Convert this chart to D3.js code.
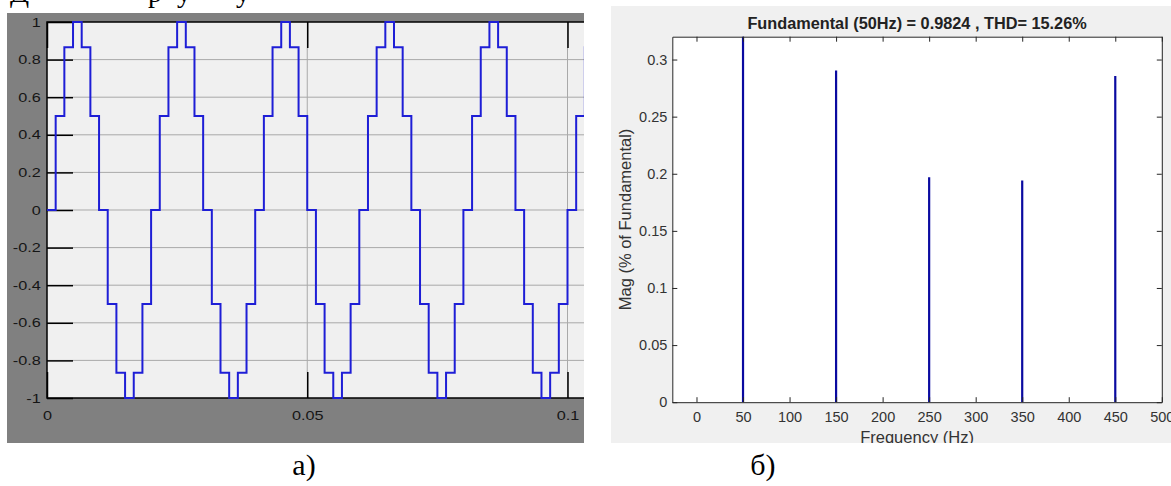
<!DOCTYPE html>
<html>
<head>
<meta charset="utf-8">
<script src="https://cdn.jsdelivr.net/npm/d3@7"></script>
<style>
body { margin: 0; background: #fff; }
</style>
</head>
<body>
<script>
var W = 1171, H = 486;

// a) staircase voltage: level held during each 1/600 s step
var stepTime = 1 / 600;
var stepLevels = [
  0, 0.5, 0.866, 1, 0.866, 0.5, 0, -0.5, -0.866, -1, -0.866, -0.5,
  0, 0.5, 0.866, 1, 0.866, 0.5, 0, -0.5, -0.866, -1, -0.866, -0.5,
  0, 0.5, 0.866, 1, 0.866, 0.5, 0, -0.5, -0.866, -1, -0.866, -0.5,
  0, 0.5, 0.866, 1, 0.866, 0.5, 0, -0.5, -0.866, -1, -0.866, -0.5,
  0, 0.5, 0.866, 1, 0.866, 0.5, 0, -0.5, -0.866, -1, -0.866, -0.5,
  0, 0.5, 0.866
];
var waveXTicks = [0, 0.05, 0.1];
var waveXLabels = ["0", "0.05", "0.1"];
var waveYTicks = [-1, -0.8, -0.6, -0.4, -0.2, 0, 0.2, 0.4, 0.6, 0.8, 1];
var waveYLabels = ["-1", "-0.8", "-0.6", "-0.4", "-0.2", "0", "0.2", "0.4", "0.6", "0.8", "1"];

// b) harmonic spectrum
var freqs = [50, 150, 250, 350, 450];
var mags = [1, 0.2904, 0.197, 0.194, 0.2857];
var freqTicks = [0, 50, 100, 150, 200, 250, 300, 350, 400, 450, 500];
var magTicks = [0, 0.05, 0.1, 0.15, 0.2, 0.25, 0.3];
var magLabels = ["0", "0.05", "0.1", "0.15", "0.2", "0.25", "0.3"];
var specTitle = "Fundamental (50Hz) = 0.9824 , THD= 15.26%";

var sans = "'Liberation Sans', Arial, sans-serif";
var serif = "'Liberation Serif', 'Times New Roman', serif";

var svg = d3.select("body").append("svg")
  .attr("width", W)
  .attr("height", H);

svg.append("rect").attr("width", W).attr("height", H).attr("fill", "#fff");

// cut-off line of text above the figure
var frag = [["Д", 10], ["р", 148], ["у", 177], ["у", 236]];
svg.selectAll(".frag").data(frag).enter().append("text")
  .attr("x", function (d) { return d[1]; })
  .attr("y", 2)
  .style("font-family", serif)
  .style("font-size", "28px")
  .text(function (d) { return d[0]; });

// ---------- a) ----------
var L = { left: 47, top: 22, right: 584, bottom: 398 };

svg.append("rect")
  .attr("x", 7).attr("y", 13)
  .attr("width", L.right - 7).attr("height", 443 - 13)
  .attr("fill", "#808080");

svg.append("rect")
  .attr("x", L.left).attr("y", L.top)
  .attr("width", L.right - L.left).attr("height", L.bottom - L.top)
  .attr("fill", "#f0f0f0");

var xw = d3.scaleLinear().domain([0, 0.1]).range([L.left, 567.5]);
var yw = d3.scaleLinear().domain([-1, 1]).range([L.bottom, L.top]);

svg.append("clipPath").attr("id", "clipA")
  .append("rect")
  .attr("x", L.left).attr("y", L.top - 2)
  .attr("width", L.right - L.left).attr("height", L.bottom - L.top + 4);

var gA = svg.append("g");

// grid
gA.selectAll(".hg").data(waveYTicks.slice(1, -1)).enter().append("line")
  .attr("x1", L.left).attr("x2", L.right)
  .attr("y1", function (d) { return yw(d); })
  .attr("y2", function (d) { return yw(d); })
  .attr("stroke", "#a9a9a9").attr("stroke-width", 1);

gA.selectAll(".vg").data(waveXTicks.slice(1)).enter().append("line")
  .attr("y1", L.top).attr("y2", L.bottom)
  .attr("x1", function (d) { return xw(d); })
  .attr("x2", function (d) { return xw(d); })
  .attr("stroke", "#a9a9a9").attr("stroke-width", 1);

// ticks + labels
var axL = gA.append("g")
  .attr("transform", "translate(" + L.left + ",0)")
  .call(d3.axisLeft(yw).tickValues(waveYTicks).tickSize(-26)
    .tickFormat(function (d, i) { return waveYLabels[i]; }));
var axB = gA.append("g")
  .attr("transform", "translate(0," + L.bottom + ")")
  .call(d3.axisBottom(xw).tickValues(waveXTicks).tickSize(-26)
    .tickFormat(function (d, i) { return waveXLabels[i]; }));
var axT = gA.append("g")
  .attr("transform", "translate(0," + L.top + ")")
  .call(d3.axisTop(xw).tickValues(waveXTicks).tickSize(-26).tickFormat(""));

[axL, axB, axT].forEach(function (a) {
  a.select(".domain").remove();
  a.selectAll(".tick line").attr("stroke", "#000").attr("stroke-width", 1.5);
});
axL.selectAll("text")
  .attr("x", -6.3 / 1.3)
  .attr("transform", "scale(1.3,1)")
  .style("font-family", sans).style("font-size", "12.5px").attr("fill", "#151515");
axB.selectAll("text")
  .attr("y", 0).attr("dy", "0")
  .attr("transform", "translate(0,21.5) scale(1.3,1)")
  .style("font-family", sans).style("font-size", "12.5px").attr("fill", "#151515");

// frame
gA.append("path")
  .attr("d", "M" + L.right + "," + L.top + "H" + L.left + "V" + L.bottom + "H" + L.right)
  .attr("fill", "none").attr("stroke", "#000").attr("stroke-width", 1.5);

// waveform
var wavePts = stepLevels.map(function (v, i) { return [i * stepTime, v]; });
wavePts.push([stepLevels.length * stepTime, stepLevels[stepLevels.length - 1]]);

gA.append("path")
  .datum(wavePts)
  .attr("clip-path", "url(#clipA)")
  .attr("fill", "none")
  .attr("stroke", "#1e1ed6")
  .attr("stroke-width", 2)
  .attr("stroke-linejoin", "miter")
  .attr("d", d3.line()
    .x(function (d) { return xw(d[0]); })
    .y(function (d) { return yw(d[1]); })
    .curve(d3.curveStepAfter));

// ---------- b) ----------
var R = { left: 672.3, top: 36.7, right: 1161.8, bottom: 402.2 };

svg.append("clipPath").attr("id", "clipPanelB")
  .append("rect").attr("x", 611).attr("y", 6).attr("width", W - 611).attr("height", 443 - 6);

var gB = svg.append("g").attr("clip-path", "url(#clipPanelB)");

gB.append("rect")
  .attr("x", 611).attr("y", 6)
  .attr("width", W - 611).attr("height", 443 - 6)
  .attr("fill", "#f0f0f0");

gB.append("rect")
  .attr("x", R.left).attr("y", R.top)
  .attr("width", R.right - R.left).attr("height", R.bottom - R.top)
  .attr("fill", "#fff");

var xf = d3.scaleLinear().domain([-26, 500]).range([R.left, R.right]);
var ym = d3.scaleLinear().domain([0, 0.32]).range([R.bottom, R.top]);

svg.append("clipPath").attr("id", "clipB")
  .append("rect")
  .attr("x", R.left).attr("y", R.top)
  .attr("width", R.right - R.left).attr("height", R.bottom - R.top);

gB.append("g").attr("clip-path", "url(#clipB)")
  .selectAll(".bar").data(freqs).enter().append("line")
  .attr("x1", function (d) { return xf(d); })
  .attr("x2", function (d) { return xf(d); })
  .attr("y1", ym(0))
  .attr("y2", function (d, i) { return ym(mags[i]); })
  .attr("stroke", "#0a0aa0")
  .attr("stroke-width", 2.2);

var axisColor = "#262626";
var bB = gB.append("g").attr("transform", "translate(0," + R.bottom + ")")
  .call(d3.axisBottom(xf).tickValues(freqTicks).tickSizeInner(-5).tickSizeOuter(0).tickPadding(10)
    .tickFormat(d3.format("d")));
var bT = gB.append("g").attr("transform", "translate(0," + R.top + ")")
  .call(d3.axisTop(xf).tickValues(freqTicks).tickSizeInner(-5).tickSizeOuter(0).tickFormat(""));
var bL = gB.append("g").attr("transform", "translate(" + R.left + ",0)")
  .call(d3.axisLeft(ym).tickValues(magTicks).tickSizeInner(-5).tickSizeOuter(0).tickPadding(5)
    .tickFormat(function (d, i) { return magLabels[i]; }));
var bR = gB.append("g").attr("transform", "translate(" + R.right + ",0)")
  .call(d3.axisRight(ym).tickValues(magTicks).tickSizeInner(-5).tickSizeOuter(0).tickFormat(""));

[bB, bT, bL, bR].forEach(function (a) {
  a.select(".domain").attr("stroke", axisColor);
  a.selectAll(".tick line").attr("stroke", axisColor);
  a.selectAll("text").style("font-family", sans).style("font-size", "14.5px").attr("fill", "#333");
});

gB.append("text")
  .attr("x", (R.left + R.right) / 2).attr("y", 28.5)
  .attr("text-anchor", "middle")
  .style("font-family", sans).style("font-size", "16.3px").style("font-weight", "bold")
  .attr("fill", "#222")
  .text(specTitle);

gB.append("text")
  .attr("x", (R.left + R.right) / 2).attr("y", 443)
  .attr("text-anchor", "middle")
  .style("font-family", sans).style("font-size", "16.5px")
  .attr("fill", "#333")
  .text("Frequency (Hz)");

gB.append("text")
  .attr("transform", "translate(631," + (R.top + R.bottom) / 2 + ") rotate(-90)")
  .attr("text-anchor", "middle")
  .style("font-family", sans).style("font-size", "16.5px")
  .attr("fill", "#333")
  .text("Mag (% of Fundamental)");

// captions
svg.append("text").attr("x", 304).attr("y", 475)
  .attr("text-anchor", "middle")
  .style("font-family", serif).style("font-size", "30px")
  .text("а)");
svg.append("text").attr("x", 763).attr("y", 475)
  .attr("text-anchor", "middle")
  .style("font-family", serif).style("font-size", "30px")
  .text("б)");
</script>
</body>
</html>
